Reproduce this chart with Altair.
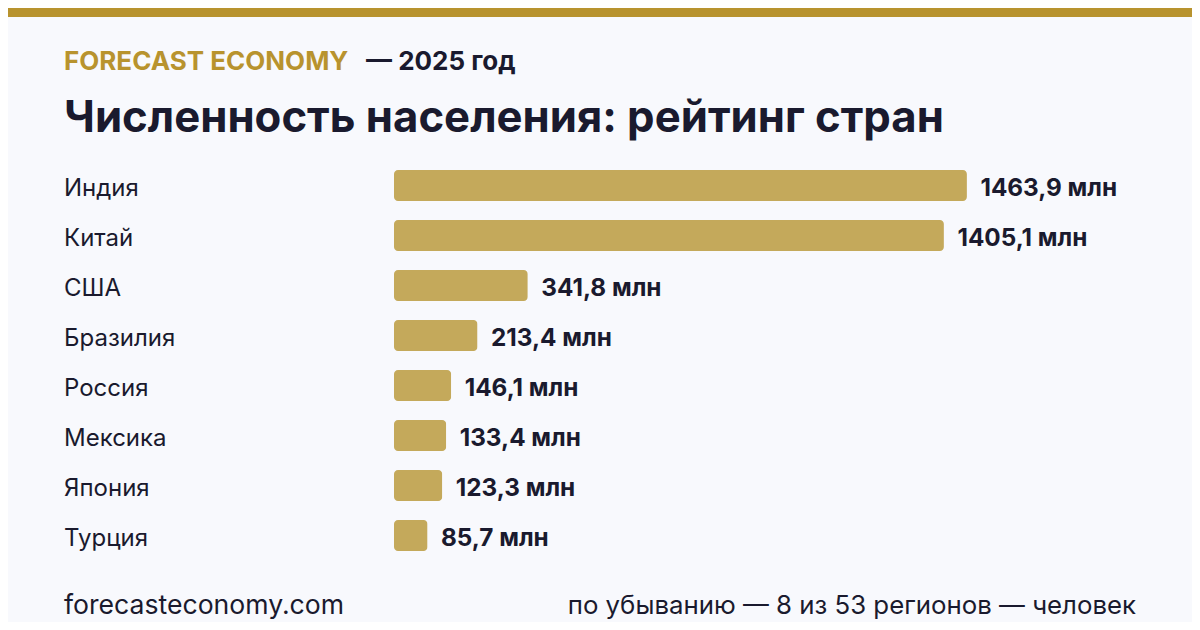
import altair as alt
import pandas as pd

countries = ["Индия", "Китай", "США", "Бразилия", "Россия", "Мексика", "Япония", "Турция"]
population = [1463.9, 1405.1, 341.8, 213.4, 146.1, 133.4, 123.3, 85.7]
value_labels = ["1463,9 млн", "1405,1 млн", "341,8 млн", "213,4 млн",
                "146,1 млн", "133,4 млн", "123,3 млн", "85,7 млн"]

BG = "#f8f9fd"
GOLD = "#b8932e"
BAR = "#c4a95b"
DARK = "#1a1a2e"
FONT = "Inter"

data = pd.DataFrame({"country": countries, "population": population, "label": value_labels})

# the page margin takes 8px, so the card is 1184x614 and all page positions shift by 8
MARGIN = 8
WIDTH = 1200 - 2 * MARGIN
HEIGHT = 630 - 2 * MARGIN
LEFT = 394 - MARGIN
TOP = 160.5 - MARGIN

x = alt.X("population:Q", axis=None, scale=alt.Scale(domain=[0, 2039], nice=False))
y = alt.Y(
    "country:N",
    sort=countries,
    title=None,
    scale=alt.Scale(paddingInner=0.38, paddingOuter=0.19),
    axis=alt.Axis(
        domain=False, ticks=False, labelAlign="left", labelPadding=330.5,
        labelFont=FONT, labelFontSize=24, labelColor=DARK, labelFontWeight=400,
        labelBaseline="middle", labelOffset=3,
    ),
)

bars = alt.Chart(data).mark_bar(size=31, cornerRadius=4, color=BAR).encode(x=x, y=y)
values = alt.Chart(data).mark_text(
    align="left", baseline="middle", dx=13.5, dy=3,
    font=FONT, fontSize=24.3, fontWeight=700, color=DARK,
).encode(x=x, y=y, text="label:N")


def caption(text, px, py, size, weight, color, align="left"):
    """One line of text, px/py are positions on the page"""
    return alt.Chart(pd.DataFrame({"t": [text]})).mark_text(
        align=align, baseline="alphabetic", font=FONT, fontSize=size,
        fontWeight=weight, color=color,
    ).encode(x=alt.value(px - MARGIN - LEFT), y=alt.value(py - MARGIN - TOP), text="t:N")


top_bar = alt.Chart(pd.DataFrame({"a": [0]})).mark_rect(color=GOLD).encode(
    x=alt.value(-LEFT), x2=alt.value(WIDTH - LEFT),
    y=alt.value(-TOP), y2=alt.value(9 - TOP),
)

chart = alt.layer(
    top_bar,
    bars,
    values,
    caption("FORECAST ECONOMY", 64, 70, 26, 700, GOLD),
    caption("— 2025 год", 366, 70, 26, 700, DARK),
    caption("Численность населения: рейтинг стран", 64, 132, 43.7, 700, DARK),
    caption("forecasteconomy.com", 64, 614, 26.6, 400, DARK),
    caption("по убыванию — 8 из 53 регионов — человек", 1136, 614, 25.8, 400, DARK, align="right"),
).properties(
    width=WIDTH - LEFT,
    height=400,
    padding={"left": LEFT, "top": TOP, "right": 0, "bottom": HEIGHT - TOP - 400},
    autosize=alt.AutoSizeParams(type="none"),
    background=BG,
).configure_view(stroke=None)

chart.save("out.html", embed_options={"renderer": "svg", "actions": False})
